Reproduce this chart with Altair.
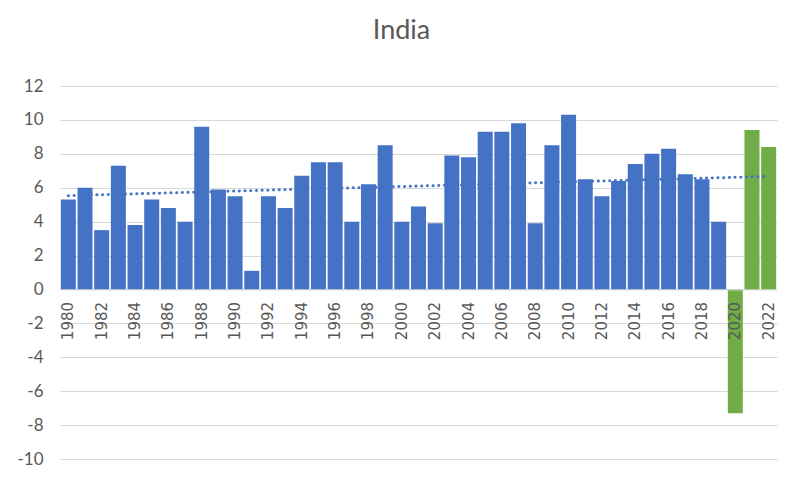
import altair as alt
import pandas as pd

years = list(range(1980, 2023))
growth = [5.3, 6.0, 3.5, 7.3, 3.8, 5.3, 4.8, 4.0, 9.6, 5.9,
          5.5, 1.1, 5.5, 4.8, 6.7, 7.5, 7.5, 4.0, 6.2, 8.5,
          4.0, 4.9, 3.9, 7.9, 7.8, 9.3, 9.3, 9.8, 3.9, 8.5,
          10.3, 6.5, 5.5, 6.4, 7.4, 8.0, 8.3, 6.8, 6.5, 4.0,
          -7.3, 9.4, 8.4]
label_years = list(range(1980, 2023, 2))
y_ticks = list(range(-10, 13, 2))

BLUE = "#4472C4"
GREEN = "#70AD47"
TEXT = "#595959"
GRID = "#d9d9d9"

df = pd.DataFrame({"year": years, "value": growth})

W, H = 717, 373
zero_offset = -(H - H * 12 / 22)

x_enc = alt.X(
    "year:O",
    scale=alt.Scale(paddingInner=0.1, paddingOuter=0.05),
    axis=alt.Axis(
        title=None, values=label_years, labelAngle=-90, ticks=False,
        labelPadding=12, labelFont="DejaVu Sans", labelFontSize=15,
        labelColor=TEXT, domainColor=GRID, offset=zero_offset,
        labelOverlap=False, zindex=1,
    ),
)

y_enc = alt.Y(
    "value:Q",
    scale=alt.Scale(domain=[-10, 12], nice=False),
    axis=alt.Axis(
        title=None, values=y_ticks, ticks=False, domain=False,
        labelPadding=17, labelFont="Lato", labelFontSize=17,
        labelColor=TEXT, gridColor=GRID, gridWidth=1,
        labelExpr="'' + datum.value", labelOverlap=False, labelBound=False,
        labelFlush=False,
    ),
)

base = alt.Chart(df).encode(x=x_enc, y=y_enc)

bars = base.mark_bar().encode(
    color=alt.condition(alt.datum.year >= 2020, alt.value(GREEN), alt.value(BLUE)),
)

trend = base.transform_regression(
    "year", "value", method="linear", extent=[1980, 2022]
).mark_line(
    color=BLUE, strokeWidth=3, strokeDash=[0.1, 5.6], strokeCap="round"
)

chart = alt.layer(bars, trend).properties(
    width=W, height=H,
    background="white",
    title=alt.TitleParams(
        "India", font="Lato", fontSize=27, fontWeight="normal",
        color=TEXT, anchor="middle", offset=32, dx=-17,
    ),
    autosize=alt.AutoSizeParams(type="none"),
    padding={"left": 52, "top": 78, "right": 8, "bottom": 8},
).configure_view(stroke=None, strokeWidth=0)

chart.save("out.html", embed_options={"renderer": "svg", "actions": False})
